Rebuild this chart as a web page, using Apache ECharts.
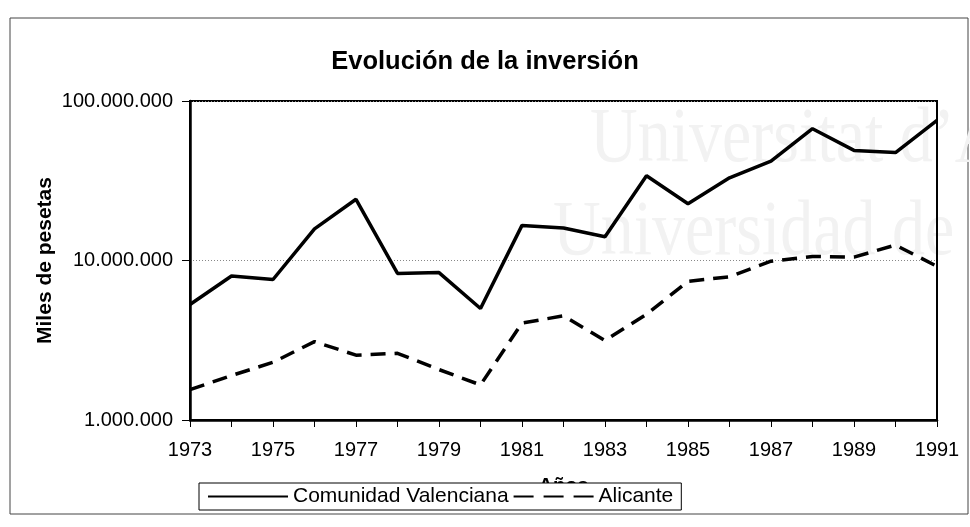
<!DOCTYPE html>
<html>
<head>
<meta charset="utf-8">
<script src="https://cdn.jsdelivr.net/npm/echarts@6/dist/echarts.min.js"></script>
<style>
  html, body { margin: 0; padding: 0; background: #fff; }
  #chart { width: 970px; height: 527px; }
</style>
</head>
<body>
<div id="chart"></div>
<script>
const years = ['1973', '1974', '1975', '1976', '1977', '1978', '1979', '1980', '1981', '1982',
  '1983', '1984', '1985', '1986', '1987', '1988', '1989', '1990', '1991'];

// miles de pesetas
const comunidadValenciana = [5300000, 8000000, 7600000, 15800000, 24200000, 8300000, 8400000,
  5000000, 16600000, 16000000, 14100000, 34000000, 22700000, 33000000, 42000000, 67000000,
  49000000, 47500000, 75500000];
const alicante = [1550000, 1900000, 2300000, 3100000, 2550000, 2620000, 2070000, 1660000,
  4050000, 4500000, 3150000, 4600000, 7400000, 7900000, 9900000, 10600000, 10500000,
  12500000, 9200000];

const FONT = 'Liberation Sans, Arial, sans-serif';
const WATERMARK = '66px "Liberation Serif", serif';

function withDots(v) {
  return Math.round(v).toString().replace(/\B(?=(\d{3})+(?!\d))/g, '.');
}

const chart = echarts.init(document.getElementById('chart'));

chart.setOption({
  animation: false,
  backgroundColor: '#fff',
  title: {
    text: 'Evolución de la inversión',
    left: 'center',
    top: 49,
    padding: 0,
    textStyle: { fontFamily: FONT, fontSize: 25.5, fontWeight: 'bold', color: '#000' },
  },
  graphic: [
    {
      type: 'rect',
      z: -20,
      shape: { x: 10, y: 18, width: 958, height: 496 },
      style: { fill: 'none', stroke: '#444', lineWidth: 1 },
    },
    {
      type: 'text',
      z: -10,
      x: 590,
      y: 101,
      scaleY: 1.2,
      style: { text: 'Universitat d\u2019Alacant', font: WATERMARK, fill: '#f2f2f2', verticalAlign: 'top' },
    },
    {
      type: 'text',
      z: -10,
      x: 553,
      y: 194,
      scaleY: 1.2,
      style: { text: 'Universidad de Alicante', font: WATERMARK, fill: '#f2f2f2', verticalAlign: 'top' },
    },
  ],
  legend: {
    left: 199,
    top: 483,
    padding: [3, 8],
    itemWidth: 80,
    itemHeight: 20,
    itemGap: 4,
    borderColor: '#000',
    borderWidth: 1,
    backgroundColor: '#fff',
    itemStyle: { opacity: 0 },
    lineStyle: { width: 2 },
    textStyle: { fontFamily: FONT, fontSize: 21, color: '#000' },
    data: [
      { name: 'Comunidad Valenciana' },
      { name: 'Alicante', lineStyle: { width: 2, type: [20, 10] } },
    ],
  },
  grid: {
    left: 190,
    right: 33,
    top: 101,
    bottom: 107,
    show: true,
    borderColor: '#000',
    borderWidth: 2,
    backgroundColor: 'transparent',
  },
  xAxis: {
    type: 'category',
    data: years,
    boundaryGap: false,
    name: 'Años',
    nameLocation: 'middle',
    nameGap: 56,
    nameMoveOverlap: false,
    nameTextStyle: { fontFamily: FONT, fontSize: 20, fontWeight: 'bold', color: '#000' },
    axisLine: { lineStyle: { color: '#000', width: 2.5 } },
    axisTick: { show: true, interval: 0, length: 7, lineStyle: { color: '#000', width: 1 } },
    axisLabel: { interval: 1, margin: 20, fontFamily: FONT, fontSize: 20, color: '#000' },
    splitLine: { show: false },
  },
  yAxis: {
    type: 'log',
    logBase: 10,
    min: 1000000,
    max: 100000000,
    name: 'Miles de pesetas',
    nameLocation: 'middle',
    nameGap: 134,
    nameMoveOverlap: false,
    nameTextStyle: { fontFamily: FONT, fontSize: 21, fontWeight: 'bold', color: '#000' },
    axisLine: { show: true, lineStyle: { color: '#000', width: 2.5 } },
    axisTick: { show: true, length: 8, lineStyle: { color: '#000', width: 1 } },
    axisLabel: { margin: 17, fontFamily: FONT, fontSize: 20, color: '#000', formatter: withDots },
    splitLine: { show: true, lineStyle: { color: '#888', width: 1, type: [1, 2] } },
  },
  series: [
    {
      name: 'Comunidad Valenciana',
      type: 'line',
      data: comunidadValenciana,
      symbol: 'none',
      lineStyle: { color: '#000', width: 3.5 },
      itemStyle: { color: '#000' },
    },
    {
      name: 'Alicante',
      type: 'line',
      data: alicante,
      symbol: 'none',
      lineStyle: { color: '#000', width: 3.5, type: [15, 9] },
      itemStyle: { color: '#000' },
    },
  ],
});
</script>
</body>
</html>
